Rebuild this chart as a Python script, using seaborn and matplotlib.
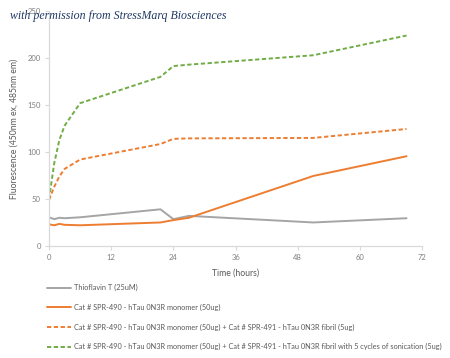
import numpy as np
import pandas as pd
import matplotlib
matplotlib.use('Agg')
import matplotlib.pyplot as plt
import seaborn as sns

# data
hours = [0, 1, 2, 3, 6, 21.5, 24, 27, 51, 69]
thioflavin = [30.5, 28.5, 30, 29.5, 30.5, 39, 28.5, 32, 25, 29.5]
monomer = [23, 22, 23.5, 22.5, 22, 25, 27.5, 30, 74.5, 95.5]
mono_fibril = [49, 63, 74, 82, 92, 108.5, 114, 114.5, 115, 124.5]
mono_sonic = [50, 88, 113, 128, 152, 180, 191.5, 193, 203, 224]

labels = ['Thioflavin T (25uM)',
          'Cat # SPR-490 - hTau 0N3R monomer (50ug)',
          'Cat # SPR-490 - hTau 0N3R monomer (50ug) + Cat # SPR-491 - hTau 0N3R fibril (5ug)',
          'Cat # SPR-490 - hTau 0N3R monomer (50ug) + Cat # SPR-491 - hTau 0N3R fibril with 5 cycles of sonication (5ug)']
colors = ['#A5A5A5', '#ED7D31', '#ED7D31', '#70AD47']
dashed = [False, False, True, True]

sns.set_style('white')
plt.rcParams['font.family'] = ['Lato', 'DejaVu Sans']

df = pd.DataFrame({'hours': hours * 4,
                   'value': thioflavin + monomer + mono_fibril + mono_sonic,
                   'series': [l for l in labels for _ in hours]})

fig = plt.figure(figsize=(4.5, 3.58), dpi=100)
ax = fig.add_axes([0.109, 0.313, 0.829, 0.656])

for lab, col, d in zip(labels, colors, dashed):
    sub = df[df['series'] == lab]
    sns.lineplot(data=sub, x='hours', y='value', color=col, lw=1.4,
                 ls=(0, (2.2, 1.3)) if d else '-', label=lab, ax=ax, legend=False)

ax.set_xlim(0, 72)
ax.set_ylim(0, 250)
ax.set_xticks(np.arange(0, 73, 12))
ax.set_yticks(np.arange(0, 251, 50))
for s in ['top', 'right']:
    ax.spines[s].set_visible(False)
for s in ['left', 'bottom']:
    ax.spines[s].set_color('#d9d9d9')
    ax.spines[s].set_linewidth(0.9)
ax.tick_params(axis='both', colors='#d9d9d9', labelcolor='#7f7f7f',
               labelsize=5.5, length=3, width=0.8, direction='out', pad=3,
               left=True, bottom=True)
ax.set_xlabel('Time (hours)', fontsize=6.2, color='#595959', labelpad=5)
ax.set_ylabel('Fluorescence (450nm ex, 485nm em)', fontsize=6.2, color='#595959', labelpad=6)

handles, lbls = ax.get_legend_handles_labels()
fig.legend(handles, lbls, loc='upper left', bbox_to_anchor=(0.09, 0.225),
           frameon=False, fontsize=5.3, labelcolor='#595959',
           handlelength=3.2, handletextpad=0.5, labelspacing=1.7)

# watermark sits over the top tick label, as in the original
fig.text(0.022, 0.955, 'with permission from StressMarq Biosciences',
         fontsize=8.6, style='italic', family='Liberation Serif', color='#1f3864',
         va='center')

fig.savefig('out.png', dpi=100, facecolor='white')
